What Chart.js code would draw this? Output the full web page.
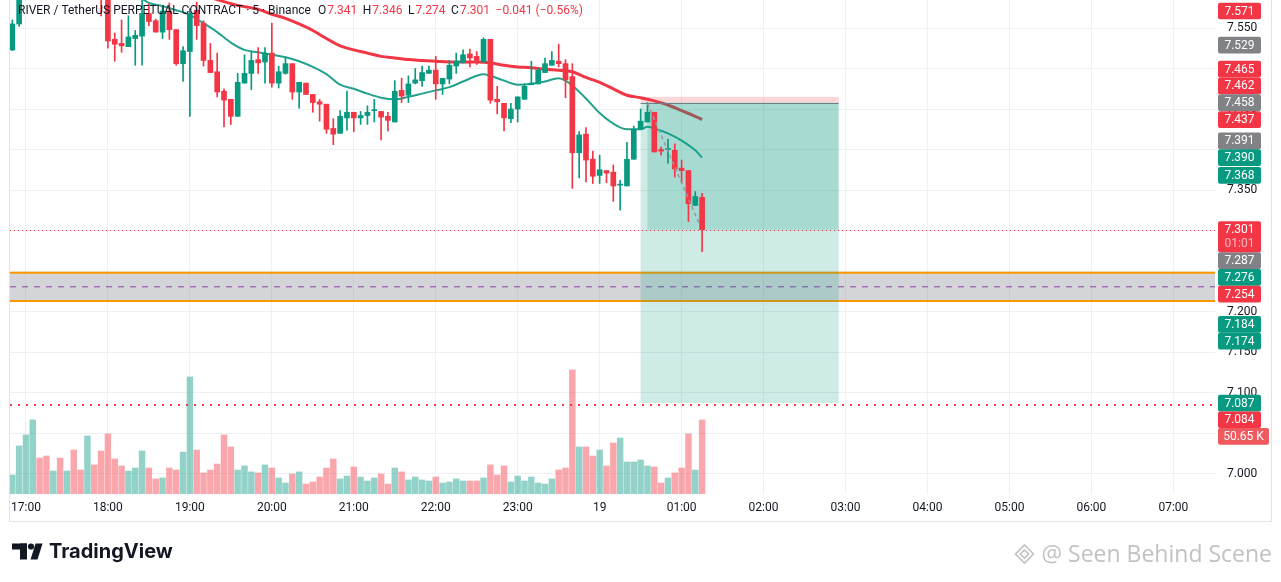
<!DOCTYPE html>
<html>
<head>
<meta charset="utf-8">
<script src="https://cdn.jsdelivr.net/npm/chart.js@4.4.1/dist/chart.umd.min.js"></script>
<style>
html, body { margin: 0; padding: 0; background: #fff; }
canvas { display: block; }
</style>
</head>
<body>
<canvas id="myChart" width="1281" height="582"></canvas>
<script>
// 5 minute candles, first bar 16:50
const barMinutes = 5
const firstBar = 16 * 60 + 50

const opens = [7.523, 7.555, 7.592, 7.612, 7.634, 7.618, 7.604, 7.615, 7.601, 7.610,
    7.594, 7.590, 7.608, 7.600, 7.590, 7.536, 7.531, 7.527, 7.537, 7.540,
    7.568, 7.559, 7.545, 7.571, 7.548, 7.506, 7.521, 7.572, 7.556, 7.510,
    7.496, 7.472, 7.462, 7.441, 7.482, 7.494, 7.511, 7.508, 7.519, 7.482,
    7.494, 7.506, 7.471, 7.482, 7.468, 7.459, 7.456, 7.426, 7.420, 7.439,
    7.446, 7.439, 7.442, 7.448, 7.447, 7.441, 7.434, 7.473, 7.467, 7.482,
    7.485, 7.494, 7.498, 7.481, 7.487, 7.503, 7.507, 7.518, 7.515, 7.508,
    7.536, 7.462, 7.457, 7.438, 7.450, 7.462, 7.480, 7.481, 7.495, 7.504,
    7.509, 7.506, 7.490, 7.396, 7.419, 7.388, 7.368, 7.374, 7.372, 7.356,
    7.355, 7.388, 7.425, 7.434, 7.446, 7.400, 7.400, 7.399, 7.377, 7.374,
    7.331, 7.341]
const highs = [7.560, 7.598, 7.618, 7.640, 7.645, 7.626, 7.620, 7.619, 7.614, 7.616,
    7.600, 7.612, 7.611, 7.604, 7.594, 7.544, 7.560, 7.565, 7.547, 7.586,
    7.580, 7.561, 7.577, 7.581, 7.548, 7.527, 7.574, 7.582, 7.559, 7.531,
    7.519, 7.475, 7.462, 7.494, 7.517, 7.520, 7.526, 7.526, 7.556, 7.503,
    7.514, 7.506, 7.483, 7.482, 7.468, 7.462, 7.456, 7.438, 7.448, 7.472,
    7.446, 7.447, 7.454, 7.462, 7.447, 7.446, 7.485, 7.488, 7.491, 7.500,
    7.503, 7.503, 7.515, 7.488, 7.510, 7.519, 7.523, 7.524, 7.521, 7.538,
    7.536, 7.478, 7.457, 7.457, 7.465, 7.481, 7.509, 7.500, 7.513, 7.521,
    7.530, 7.511, 7.506, 7.422, 7.427, 7.398, 7.393, 7.374, 7.381, 7.362,
    7.409, 7.429, 7.450, 7.458, 7.446, 7.403, 7.413, 7.407, 7.387, 7.374,
    7.348, 7.346]
const lows = [7.522, 7.552, 7.588, 7.606, 7.612, 7.598, 7.600, 7.596, 7.597, 7.590,
    7.586, 7.588, 7.594, 7.565, 7.525, 7.509, 7.520, 7.527, 7.504, 7.504,
    7.553, 7.545, 7.537, 7.536, 7.504, 7.484, 7.441, 7.536, 7.503, 7.495,
    7.465, 7.428, 7.431, 7.441, 7.482, 7.474, 7.494, 7.482, 7.477, 7.476,
    7.493, 7.462, 7.451, 7.468, 7.446, 7.435, 7.420, 7.406, 7.420, 7.424,
    7.422, 7.431, 7.431, 7.434, 7.412, 7.423, 7.434, 7.458, 7.458, 7.481,
    7.478, 7.494, 7.462, 7.468, 7.481, 7.494, 7.507, 7.502, 7.505, 7.508,
    7.457, 7.444, 7.423, 7.433, 7.434, 7.462, 7.480, 7.481, 7.495, 7.504,
    7.502, 7.464, 7.352, 7.365, 7.360, 7.358, 7.358, 7.359, 7.336, 7.325,
    7.355, 7.388, 7.425, 7.434, 7.397, 7.393, 7.383, 7.366, 7.359, 7.311,
    7.331, 7.274]
const closes = [7.555, 7.592, 7.612, 7.634, 7.618, 7.604, 7.615, 7.601, 7.610, 7.594,
    7.590, 7.608, 7.600, 7.590, 7.534, 7.530, 7.528, 7.539, 7.541, 7.568,
    7.558, 7.545, 7.571, 7.548, 7.506, 7.522, 7.568, 7.553, 7.510, 7.495,
    7.471, 7.461, 7.441, 7.483, 7.494, 7.510, 7.507, 7.519, 7.482, 7.496,
    7.506, 7.471, 7.483, 7.468, 7.458, 7.456, 7.425, 7.419, 7.441, 7.446,
    7.439, 7.442, 7.446, 7.449, 7.440, 7.436, 7.472, 7.466, 7.481, 7.486,
    7.495, 7.498, 7.481, 7.488, 7.504, 7.509, 7.517, 7.513, 7.510, 7.536,
    7.461, 7.459, 7.439, 7.450, 7.465, 7.478, 7.482, 7.498, 7.506, 7.510,
    7.506, 7.486, 7.396, 7.418, 7.387, 7.367, 7.375, 7.371, 7.355, 7.357,
    7.388, 7.425, 7.435, 7.446, 7.397, 7.398, 7.401, 7.376, 7.374, 7.333,
    7.342, 7.301]
// volume in thousands
const volumes = [13.0, 32.9, 40.4, 50.7, 24.6, 26.0, 15.7, 24.6, 15.7, 30.1,
    16.4, 39.7, 19.9, 29.4, 41.1, 24.0, 19.2, 15.7, 17.8, 29.4,
    17.8, 10.3, 11.0, 17.8, 16.4, 28.7, 80.1, 30.1, 14.4, 16.4,
    20.5, 40.4, 32.2, 16.4, 19.2, 15.1, 14.4, 19.9, 17.8, 11.0,
    7.5, 13.7, 15.1, 6.8, 8.2, 11.6, 17.8, 24.0, 10.3, 12.3,
    18.5, 11.6, 8.9, 11.0, 13.7, 6.8, 17.8, 15.1, 9.6, 11.6,
    9.6, 8.9, 11.6, 7.5, 8.2, 10.3, 8.9, 8.9, 8.9, 11.0,
    19.9, 13.0, 19.2, 8.2, 12.3, 8.9, 11.6, 7.5, 6.8, 10.3,
    16.4, 17.8, 84.9, 32.2, 32.2, 26.0, 30.1, 19.2, 34.9, 38.3,
    21.9, 21.9, 23.3, 19.2, 18.5, 7.5, 11.0, 14.4, 17.8, 41.1,
    16.4, 50.65]

// moving averages: [bar, price]
const emaFast = [[16, 7.600], [19, 7.586], [20, 7.581], [22, 7.577], [24, 7.572], [26, 7.566],
    [28, 7.556], [30, 7.545], [32, 7.532], [34, 7.523], [36, 7.520], [38, 7.517], [40, 7.514],
    [42, 7.509], [44, 7.502], [46, 7.493], [48, 7.480], [50, 7.475], [52, 7.469], [54, 7.464],
    [56, 7.462], [58, 7.465], [60, 7.469], [62, 7.473], [64, 7.477], [66, 7.484], [68, 7.491],
    [69, 7.493], [70, 7.491], [72, 7.485], [74, 7.480], [76, 7.481], [78, 7.484], [80, 7.488],
    [81, 7.485], [82, 7.479], [84, 7.463], [86, 7.445], [88, 7.432], [90, 7.425], [92, 7.425],
    [93, 7.428], [94, 7.426], [96, 7.420], [98, 7.411], [100, 7.399], [101, 7.390]]
const emaSlow = [[27, 7.594], [30, 7.585], [33, 7.578], [36, 7.573], [38, 7.567], [40, 7.562],
    [42, 7.555], [44, 7.547], [46, 7.537], [48, 7.528], [50, 7.523], [52, 7.519], [54, 7.515],
    [56, 7.513], [58, 7.511], [60, 7.510], [62, 7.509], [64, 7.508], [66, 7.508], [68, 7.508],
    [70, 7.507], [72, 7.504], [74, 7.502], [76, 7.501], [78, 7.499], [80, 7.498], [82, 7.496],
    [84, 7.489], [86, 7.483], [88, 7.475], [90, 7.467], [92, 7.464], [94, 7.460], [96, 7.455],
    [98, 7.448], [100, 7.441], [101, 7.437]]

// drawings
const posStartBar = 92
const posEndBar = 121
const posStop = 7.465
const posEntry = 7.458
const posTarget = 7.087
const zoneTop = 7.248
const zoneBottom = 7.213
const alertLevel = 7.084
const trendLine = [[93, 7.457], [100.7, 7.306]]

const tickLabels = ['17:00', '18:00', '19:00', '20:00', '21:00', '22:00', '23:00', '19',
    '01:00', '02:00', '03:00', '04:00', '05:00', '06:00', '07:00']
const priceTicks = [7.000, 7.050, 7.100, 7.150, 7.200, 7.250, 7.300, 7.350, 7.400, 7.450, 7.500, 7.550]

// price scale labels
const levelValues = [7.571, 7.529, 7.465, 7.462, 7.458, 7.437, 7.391, 7.390, 7.368, 7.287, 7.276, 7.254, 7.184, 7.174, 7.087, 7.084]
const levelKinds = ['down', 'flat', 'down', 'down', 'flat', 'down', 'flat', 'up', 'up', 'flat', 'up', 'down', 'up', 'up', 'up', 'down']
const countdown = '01:01'
const title = 'RIVER / TetherUS PERPETUAL CONTRACT · 5 · Binance'

const upColor = '#089981'
const downColor = '#f23645'
const kindColor = { up: upColor, down: downColor, flat: '#808285' }

const n = closes.length
const bars = [...Array(n).keys()]
const last = n - 1
const isUp = bars.map(i => closes[i] >= opens[i])
const tickBars = tickLabels.map((t, k) => (17 * 60 + k * 60 - firstBar) / barMinutes)

function hline(ctx, x0, x1, y, width, dash, color) {
    ctx.save()
    ctx.strokeStyle = color
    ctx.lineWidth = width
    ctx.setLineDash(dash)
    ctx.beginPath()
    ctx.moveTo(x0, y)
    ctx.lineTo(x1, y)
    ctx.stroke()
    ctx.restore()
}

const tvOverlay = {
    id: 'tvOverlay',
    beforeDatasetDraw(chart, args) {
        if (args.index !== 1) return
        const { ctx, chartArea: a, scales: { x, y } } = chart
        ctx.save()
        ctx.beginPath()
        ctx.rect(a.left, a.top, a.right - a.left, a.bottom - a.top)
        ctx.clip()

        // zone
        const zt = y.getPixelForValue(zoneTop)
        const zb = y.getPixelForValue(zoneBottom)
        ctx.fillStyle = 'rgba(120,123,134,0.32)'
        ctx.fillRect(a.left, zt, a.right - a.left, zb - zt)
        hline(ctx, a.left, a.right, zt, 2, [], '#ff9800')
        hline(ctx, a.left, a.right, zb, 2, [], '#ff9800')
        hline(ctx, a.left, a.right, (zt + zb) / 2, 1, [6, 6], '#8e3fa8')

        // short position box
        const x0 = x.getPixelForValue(posStartBar)
        const x0d = x.getPixelForValue(posStartBar + 1)
        const x1 = x.getPixelForValue(posEndBar)
        const yStop = y.getPixelForValue(posStop)
        const yEntry = y.getPixelForValue(posEntry)
        const yTarget = y.getPixelForValue(posTarget)
        const yNow = y.getPixelForValue(closes[last])
        ctx.fillStyle = 'rgba(242,54,69,0.2)'
        ctx.fillRect(x0, yStop, x1 - x0, yEntry - yStop)
        ctx.fillStyle = 'rgba(8,153,129,0.2)'
        ctx.fillRect(x0, yEntry, x1 - x0, yTarget - yEntry)
        ctx.fillRect(x0d, yEntry, x1 - x0d, yNow - yEntry)
        hline(ctx, x0, x1, Math.round(yEntry) + 0.5, 1, [], '#787b86')
        ctx.restore()
    },
    afterDatasetsDraw(chart) {
        const { ctx, chartArea: a, scales: { y } } = chart
        hline(ctx, a.left, a.right, Math.round(y.getPixelForValue(closes[last])) + 0.5, 1, [1, 3], downColor)
        hline(ctx, a.left, a.right, Math.round(y.getPixelForValue(alertLevel)), 2, [2, 6], downColor)
    },
    afterDraw(chart) {
        const { ctx, chartArea: a, scales: { y, yv } } = chart

        // pane border
        ctx.save()
        ctx.strokeStyle = '#e0e3eb'
        ctx.lineWidth = 1
        ctx.strokeRect(9.5, -1, 1262, 522.5)

        // price scale labels, pushed apart like TradingView does
        const H = 16.7
        const boxL = a.right + 3
        const curY = y.getPixelForValue(closes[last])
        const curTop = curY - H / 2
        const curH = 31
        const marks = levelValues.map((v, i) => ({ y: y.getPixelForValue(v), text: v.toFixed(3), color: kindColor[levelKinds[i]], w: 43 }))
        marks.push({ y: yv.getPixelForValue(volumes[last]), text: volumes[last].toFixed(2) + ' K', color: '#f05a5e', w: 51 })
        const above = marks.filter(m => m.y < curY).sort((p, q) => q.y - p.y)
        const below = marks.filter(m => m.y >= curY).sort((p, q) => p.y - q.y)
        let edge = curTop
        above.forEach(m => { m.c = Math.min(m.y, edge - H / 2); edge = m.c - H / 2 })
        edge = curTop + curH
        below.forEach(m => { m.c = Math.max(m.y, edge + H / 2); edge = m.c + H / 2 })

        ctx.font = '12px Roboto, sans-serif'
        ctx.textAlign = 'center'
        ctx.textBaseline = 'middle'
        marks.forEach(m => {
            ctx.fillStyle = m.color
            ctx.beginPath()
            ctx.roundRect(boxL, m.c - H / 2, m.w, H, 2)
            ctx.fill()
            ctx.fillStyle = '#fff'
            ctx.fillText(m.text, boxL + m.w / 2, m.c + 0.5)
        })
        ctx.fillStyle = downColor
        ctx.beginPath()
        ctx.roundRect(boxL, curTop, 43, curH, 2)
        ctx.fill()
        ctx.fillStyle = '#fff'
        ctx.fillText(closes[last].toFixed(3), boxL + 21.5, curY + 0.5)
        ctx.fillStyle = 'rgba(255,255,255,0.65)'
        ctx.fillText(countdown, boxL + 21.5, curY + 14.5)

        // legend line
        ctx.textAlign = 'left'
        ctx.font = '12px Roboto, sans-serif'
        let hx = 18
        const hy = 11
        ctx.fillStyle = '#131722'
        ctx.fillText(title, hx, hy)
        hx += ctx.measureText(title).width + 7
        const ohlc = [['O', opens[last]], ['H', highs[last]], ['L', lows[last]], ['C', closes[last]]]
        ohlc.forEach(([k, v]) => {
            ctx.fillStyle = '#131722'
            ctx.fillText(k, hx, hy)
            hx += ctx.measureText(k).width + 1
            ctx.fillStyle = downColor
            ctx.fillText(v.toFixed(3), hx, hy)
            hx += ctx.measureText(v.toFixed(3)).width + 5.5
        })
        const chg = closes[last] - closes[last - 1]
        const pct = chg / closes[last - 1] * 100
        const sign = chg < 0 ? '−' : '+'
        ctx.fillText(sign + Math.abs(chg).toFixed(3) + ' (' + sign + Math.abs(pct).toFixed(2) + '%)', hx, hy)

        // TradingView logo
        ctx.fillStyle = '#131722'
        ctx.fillRect(12, 543.5, 15, 6)
        ctx.fillRect(20, 543.5, 7, 16)
        ctx.beginPath()
        ctx.arc(31, 546.5, 3.1, 0, Math.PI * 2)
        ctx.fill()
        ctx.beginPath()
        ctx.moveTo(35.5, 543.5)
        ctx.lineTo(42.5, 543.5)
        ctx.lineTo(37.5, 559.5)
        ctx.lineTo(30.5, 559.5)
        ctx.closePath()
        ctx.fill()
        ctx.font = 'bold 20px Inter, Roboto, sans-serif'
        ctx.fillText('TradingView', 49, 552)

        // watermark
        ctx.font = '23px "Open Sans", sans-serif'
        ctx.textAlign = 'right'
        ctx.fillStyle = '#c2c2c2'
        ctx.fillText('@ Seen Behind Scene', 1272, 555)
        const wx = 1272 - ctx.measureText('@ Seen Behind Scene').width - 17
        ctx.strokeStyle = '#c2c2c2'
        ctx.lineWidth = 1.6
        ctx.beginPath()
        ctx.moveTo(wx, 545); ctx.lineTo(wx + 9, 554); ctx.lineTo(wx, 563); ctx.lineTo(wx - 9, 554); ctx.closePath()
        ctx.stroke()
        ctx.beginPath()
        ctx.moveTo(wx, 550); ctx.lineTo(wx + 4, 554); ctx.lineTo(wx, 558); ctx.lineTo(wx - 4, 554); ctx.closePath()
        ctx.stroke()
        ctx.restore()
    }
}

let ctx = document.getElementById('myChart').getContext('2d')
let chart = new Chart(ctx, {
    type: 'bar',
    data: {
        datasets: [{
            // candle bodies
            type: 'bar',
            data: bars.map(i => ({ x: i, y: [opens[i], closes[i]] })),
            backgroundColor: bars.map(i => isUp[i] ? upColor : downColor),
            barThickness: 5,
            minBarLength: 1,
            grouped: false,
            order: 0
        }, {
            // wicks
            type: 'bar',
            data: bars.map(i => ({ x: i, y: [lows[i], highs[i]] })),
            backgroundColor: bars.map(i => isUp[i] ? upColor : downColor),
            barThickness: 1,
            grouped: false,
            order: 1
        }, {
            type: 'line',
            data: emaFast.map(([b, v]) => ({ x: b, y: v })),
            borderColor: '#22a28d',
            borderWidth: 2,
            pointRadius: 0,
            cubicInterpolationMode: 'monotone',
            order: 3
        }, {
            type: 'line',
            data: emaSlow.map(([b, v]) => ({ x: b, y: v })),
            borderColor: '#f23645',
            borderWidth: 3,
            pointRadius: 0,
            cubicInterpolationMode: 'monotone',
            order: 3
        }, {
            type: 'bar',
            data: bars.map(i => ({ x: i, y: volumes[i] })),
            backgroundColor: bars.map(i => isUp[i] ? 'rgba(8,153,129,0.44)' : 'rgba(242,54,69,0.44)'),
            barThickness: 5.8,
            grouped: false,
            yAxisID: 'yv',
            order: 5
        }, {
            type: 'line',
            data: trendLine.map(([b, v]) => ({ x: b, y: v })),
            borderColor: '#9598a1',
            borderWidth: 1.5,
            borderDash: [4, 3],
            pointRadius: 0,
            order: -1
        }]
    },
    options: {
        responsive: false,
        animation: false,
        devicePixelRatio: 1,
        layout: { padding: { left: 10, right: 10, top: 0, bottom: 61 } },
        plugins: { legend: { display: false }, tooltip: { enabled: false } },
        scales: {
            x: {
                type: 'linear',
                min: -0.337,
                max: 176.1,
                offset: false,
                grid: { color: '#eef0f3', offset: false, drawTicks: false, tickLength: 0 },
                border: { display: false },
                afterBuildTicks: s => { s.ticks = tickBars.map(v => ({ value: v })) },
                afterFit: s => { s.height = 27; s.paddingLeft = 0; s.paddingRight = 0 },
                ticks: {
                    autoSkip: false,
                    maxRotation: 0,
                    padding: 7,
                    color: '#131722',
                    font: { family: 'Roboto', size: 12 },
                    callback: (v, k) => tickLabels[k]
                }
            },
            y: {
                position: 'right',
                min: 6.9747,
                max: 7.5846,
                grid: { color: '#eef0f3', drawTicks: false, tickLength: 0 },
                border: { display: false },
                afterBuildTicks: s => { s.ticks = priceTicks.map(v => ({ value: v })) },
                afterFit: s => { s.width = 56; s.paddingTop = 0; s.paddingBottom = 0 },
                ticks: {
                    padding: 12,
                    color: '#131722',
                    font: { family: 'Roboto', size: 12 },
                    callback: v => v.toFixed(3)
                }
            },
            yv: {
                display: false,
                min: 0,
                max: 338,
                afterFit: s => { s.paddingTop = 0; s.paddingBottom = 0 }
            }
        }
    },
    plugins: [tvOverlay]
})
</script>
</body>
</html>
